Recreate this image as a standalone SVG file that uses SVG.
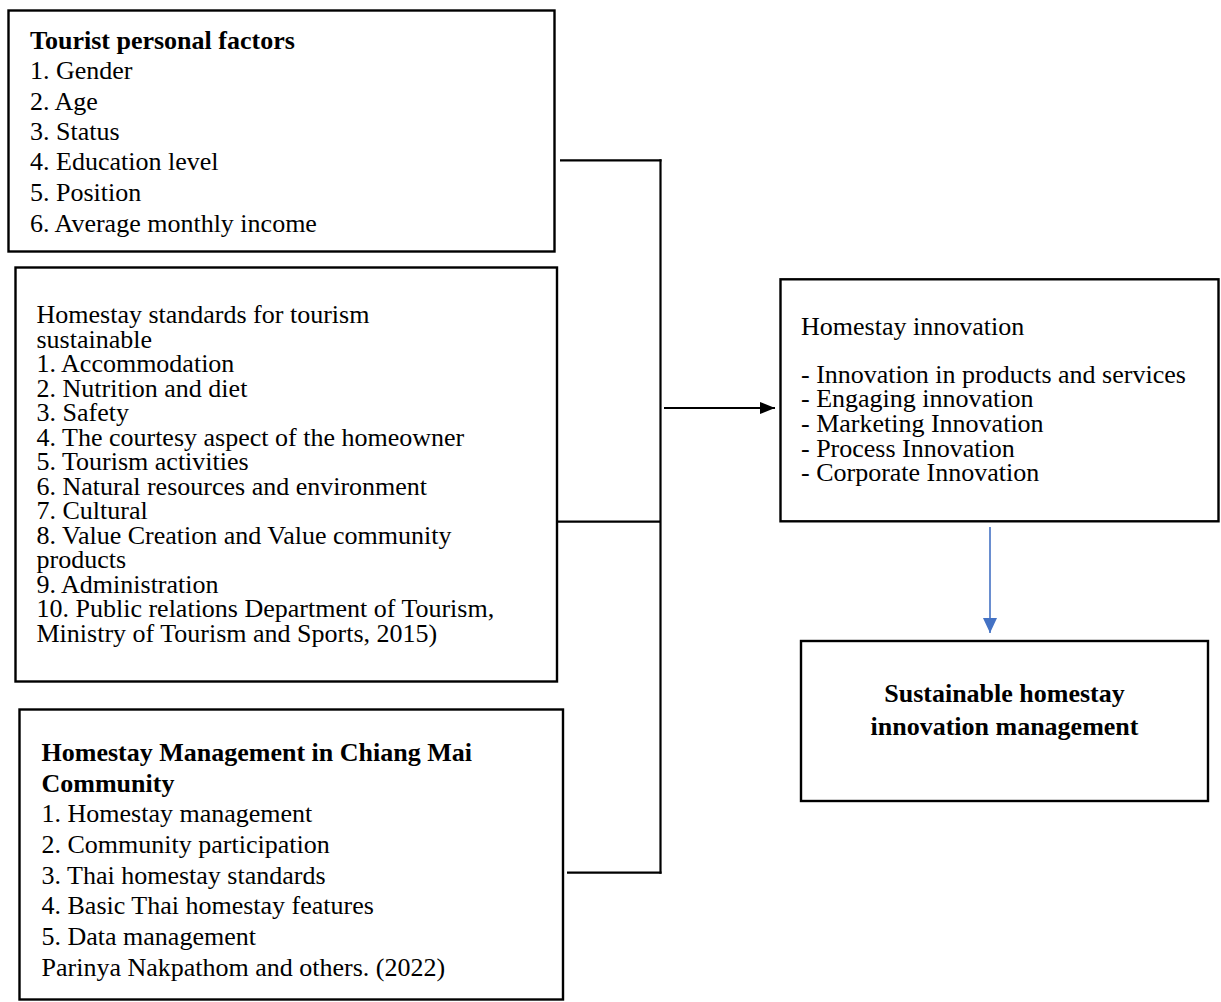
<svg xmlns="http://www.w3.org/2000/svg" width="1221" height="1002" viewBox="0 0 1221 1002">
<style>
  .box { fill: #ffffff; stroke: #000000; stroke-width: 2.4; }
  .t { font-family: "Liberation Serif", "Times New Roman", serif; font-size: 26px; fill: #000000; }
  .b { font-weight: bold; }
  .conn { fill: none; stroke: #000000; stroke-width: 2.2; }
  .blue { fill: none; stroke: #4472C4; stroke-width: 1.6; }
</style>
<defs>
  <marker id="ahBlack" markerUnits="userSpaceOnUse" markerWidth="16" markerHeight="12" refX="15" refY="6" orient="auto">
    <path d="M0,0 L15,6 L0,12 Z" fill="#000000"/>
  </marker>
  <marker id="ahBlue" markerUnits="userSpaceOnUse" markerWidth="16" markerHeight="16" refX="15" refY="7" orient="auto">
    <path d="M0,0 L15,7 L0,14 Z" fill="#4472C4"/>
  </marker>
</defs>
<rect width="1221" height="1002" fill="#ffffff"/>

<g id="node-tourist-factors">
  <rect class="box" x="8.5" y="10.5" width="546" height="241"/>
  <text class="t b" x="30" y="49">Tourist personal factors</text>
  <text class="t" x="30" y="79">1. Gender</text>
  <text class="t" x="30" y="109.5">2. Age</text>
  <text class="t" x="30" y="139.5">3. Status</text>
  <text class="t" x="30" y="170">4. Education level</text>
  <text class="t" x="30" y="201">5. Position</text>
  <text class="t" x="30" y="231.5">6. Average monthly income</text>
</g>

<g id="node-homestay-standards">
  <rect class="box" x="15.5" y="267.5" width="541.5" height="414"/>
  <text class="t" x="36.5" y="323.3">Homestay standards for tourism</text>
  <text class="t" x="36.5" y="347.8">sustainable</text>
  <text class="t" x="36.5" y="372.3">1. Accommodation</text>
  <text class="t" x="36.5" y="396.8">2. Nutrition and diet</text>
  <text class="t" x="36.5" y="421.3">3. Safety</text>
  <text class="t" x="36.5" y="445.8">4. The courtesy aspect of the homeowner</text>
  <text class="t" x="36.5" y="470.3">5. Tourism activities</text>
  <text class="t" x="36.5" y="494.8">6. Natural resources and environment</text>
  <text class="t" x="36.5" y="519.3">7. Cultural</text>
  <text class="t" x="36.5" y="543.8">8. Value Creation and Value community</text>
  <text class="t" x="36.5" y="568.3">products</text>
  <text class="t" x="36.5" y="592.8">9. Administration</text>
  <text class="t" x="36.5" y="617.3">10. Public relations Department of Tourism,</text>
  <text class="t" x="36.5" y="641.8">Ministry of Tourism and Sports, 2015)</text>
</g>

<g id="node-chiang-mai">
  <rect class="box" x="19.5" y="709.5" width="543.5" height="290"/>
  <text class="t b" x="41.5" y="761">Homestay Management in Chiang Mai</text>
  <text class="t b" x="41.5" y="791.5">Community</text>
  <text class="t" x="41.5" y="822">1. Homestay management</text>
  <text class="t" x="41.5" y="852.5">2. Community participation</text>
  <text class="t" x="41.5" y="883.5">3. Thai homestay standards</text>
  <text class="t" x="41.5" y="914.3">4. Basic Thai homestay features</text>
  <text class="t" x="41.5" y="945">5. Data management</text>
  <text class="t" x="41.5" y="976">Parinya Nakpathom and others. (2022)</text>
</g>

<g id="node-homestay-innovation">
  <rect class="box" x="780.5" y="279.3" width="438" height="242"/>
  <text class="t" x="801" y="335">Homestay innovation</text>
  <text class="t" x="801" y="382.8">- Innovation in products and services</text>
  <text class="t" x="801" y="407.3">- Engaging innovation</text>
  <text class="t" x="801" y="431.9">- Marketing Innovation</text>
  <text class="t" x="801" y="456.5">- Process Innovation</text>
  <text class="t" x="801" y="481.1">- Corporate Innovation</text>
</g>

<g id="node-sustainable">
  <rect class="box" x="801" y="641" width="407" height="160"/>
  <text class="t b" x="1004.5" y="701.5" text-anchor="middle">Sustainable homestay</text>
  <text class="t b" x="1004.5" y="735" text-anchor="middle">innovation management</text>
</g>

<g id="connectors">
  <line class="conn" x1="560" y1="160.3" x2="661.5" y2="160.3"/>
  <line class="conn" x1="557" y1="521.7" x2="660.5" y2="521.7"/>
  <line class="conn" x1="567" y1="872.7" x2="661.5" y2="872.7"/>
  <line class="conn" x1="660.5" y1="159.2" x2="660.5" y2="873.8"/>
  <line class="conn" x1="664" y1="408" x2="775" y2="408" marker-end="url(#ahBlack)"/>
  <line class="blue" x1="990" y1="527" x2="990" y2="633" marker-end="url(#ahBlue)"/>
</g>
</svg>
